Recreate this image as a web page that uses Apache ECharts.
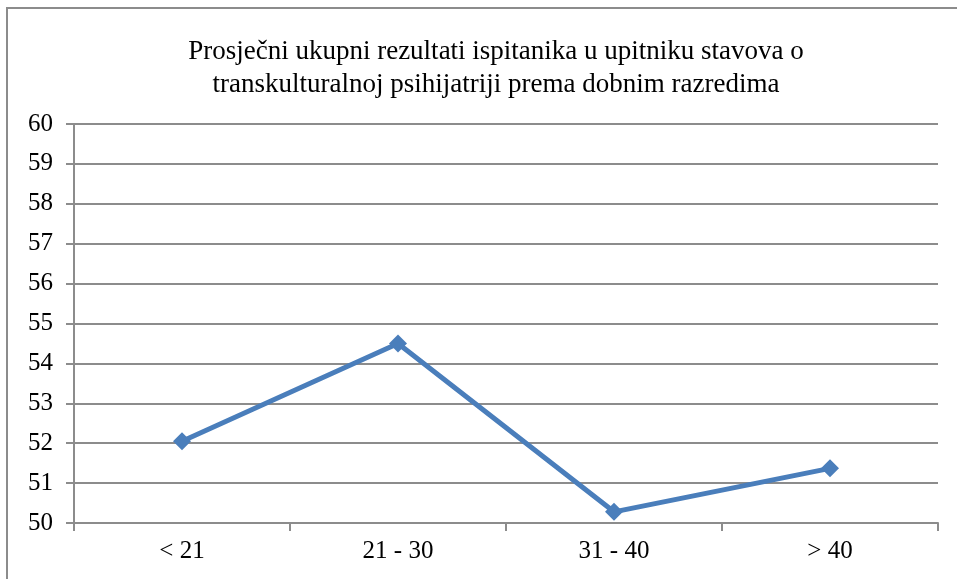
<!DOCTYPE html>
<html>
<head>
<meta charset="utf-8">
<script src="https://cdn.jsdelivr.net/npm/echarts@6/dist/echarts.min.js"></script>
<style>
  html, body { margin: 0; padding: 0; background: #fff; }
  #chart { width: 957px; height: 579px; }
</style>
</head>
<body>
<div id="chart"></div>
<script>
// dobni razredi
var categories = ['< 21', '21 - 30', '31 - 40', '> 40']
var scores = [52.05, 54.5, 50.28, 51.37]
var titleLines = [
  'Prosječni ukupni rezultati ispitanika u upitniku stavova o',
  'transkulturalnoj psihijatriji prema dobnim razredima'
]

var font = '"Liberation Serif", "DejaVu Serif", serif'
var myChart = echarts.init(document.getElementById('chart'))

myChart.setOption({
  animation: false,
  title: {
    text: titleLines.join('\n'),
    left: 491,
    textAlign: 'center',
    top: 30,
    textStyle: {
      fontFamily: font,
      fontSize: 27,
      fontWeight: 'normal',
      color: '#000',
      lineHeight: 33
    }
  },
  graphic: [
    {
      type: 'rect',
      shape: { x: 7, y: 8, width: 1000, height: 700 },
      style: { fill: 'none', stroke: '#8c8c8c', lineWidth: 2 },
      silent: true
    }
  ],
  grid: {
    left: 74,
    right: 19,
    top: 124,
    bottom: 56
  },
  xAxis: {
    type: 'category',
    data: categories,
    boundaryGap: true,
    axisLine: { lineStyle: { color: '#8c8c8c', width: 2 } },
    axisTick: { show: true, length: 8, lineStyle: { color: '#8c8c8c', width: 2 } },
    axisLabel: {
      fontFamily: font,
      fontSize: 25,
      color: '#000',
      margin: 16
    }
  },
  yAxis: {
    type: 'value',
    min: 50,
    max: 60,
    interval: 1,
    axisLine: { show: true, lineStyle: { color: '#8c8c8c', width: 2 } },
    axisTick: { show: true, length: 8, lineStyle: { color: '#8c8c8c', width: 2 } },
    splitLine: { show: true, lineStyle: { color: '#8c8c8c', width: 2 } },
    axisLabel: {
      fontFamily: font,
      fontSize: 25,
      color: '#000',
      margin: 21
    }
  },
  series: [
    {
      type: 'line',
      data: scores,
      symbol: 'diamond',
      symbolSize: 18,
      lineStyle: { color: '#4a7ebb', width: 5 },
      itemStyle: { color: '#4a7ebb' }
    }
  ]
})
</script>
</body>
</html>
